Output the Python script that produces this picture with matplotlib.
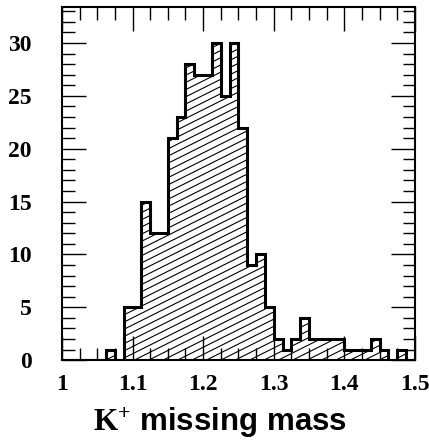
import numpy as np
import matplotlib
matplotlib.use("Agg")
import matplotlib.pyplot as plt
from matplotlib.ticker import MultipleLocator

plt.rcParams['mathtext.fontset'] = 'custom'
plt.rcParams['mathtext.rm'] = 'Liberation Serif:bold'
plt.rcParams['mathtext.it'] = 'Liberation Serif:italic'
plt.rcParams['mathtext.bf'] = 'Liberation Serif:bold'

# K+ missing mass histogram, 40 bins of 12.5 MeV between 1.0 and 1.5
bin_edges = np.linspace(1.0, 1.5, 41)
counts = [0, 0, 0, 0, 0, 1, 0, 5, 5, 15,
          12, 12, 21, 23, 28, 27, 27, 30, 25, 30,
          22, 9, 10, 5, 2, 1, 2, 4, 2, 2,
          2, 2, 1, 1, 1, 2, 1, 0, 1, 0]
xticks = [1.0, 1.1, 1.2, 1.3, 1.4, 1.5]
xtick_labels = ['1', '1.1', '1.2', '1.3', '1.4', '1.5']
yticks = [0, 5, 10, 15, 20, 25, 30]

fig = plt.figure(figsize=(4.29, 4.44), dpi=100)
ax = fig.add_axes([0.1445, 0.189, 0.8225, 0.795])

ax.set_xlim(1.0, 1.5)
ax.set_ylim(0, 33.4)

# filled step shape, used as clip path for the hatching
body = ax.stairs(counts, bin_edges, fill=True, facecolor='white',
                 edgecolor='none', zorder=1)

# shallow diagonal hatch lines (slope ~0.5 in pixels), drawn in axes coords
w_px, h_px = 353.0, 353.0
spacing = 7.2 / h_px
slope = 0.5 * w_px / h_px
for c in np.arange(-1.0, 1.0 + spacing, spacing):
    hl, = ax.plot([0, 1], [c, c + slope], transform=ax.transAxes,
                  color='black', lw=0.8, zorder=2)
    hl.set_clip_path(body)

ax.stairs(counts, bin_edges, color='black', lw=2.2, zorder=3)

for side in ax.spines.values():
    side.set_linewidth(1.5)

ax.set_xticks(xticks)
ax.set_xticklabels(xtick_labels)
ax.set_yticks(yticks)
ax.xaxis.set_minor_locator(MultipleLocator(0.025))
ax.yaxis.set_minor_locator(MultipleLocator(1))
ax.tick_params(which='both', direction='in', top=True, right=True, width=1.0)
ax.tick_params(which='major', length=17)
ax.tick_params(which='minor', length=9)
ax.tick_params(axis='y', pad=22)
ax.tick_params(axis='x', pad=10)

for lab in ax.get_yticklabels():
    lab.set_fontfamily('Liberation Serif')
    lab.set_fontweight('bold')
    lab.set_fontsize(17)
for lab in ax.get_xticklabels():
    lab.set_fontfamily('Liberation Serif')
    lab.set_fontweight('bold')
    lab.set_fontsize(17)

fig.text(0.513, 0.03, r'$\mathrm{K}^{+}$ missing mass', ha='center',
         va='baseline', fontsize=22.5, fontweight='bold',
         fontfamily='Liberation Sans')

fig.savefig('out.png', dpi=100)
